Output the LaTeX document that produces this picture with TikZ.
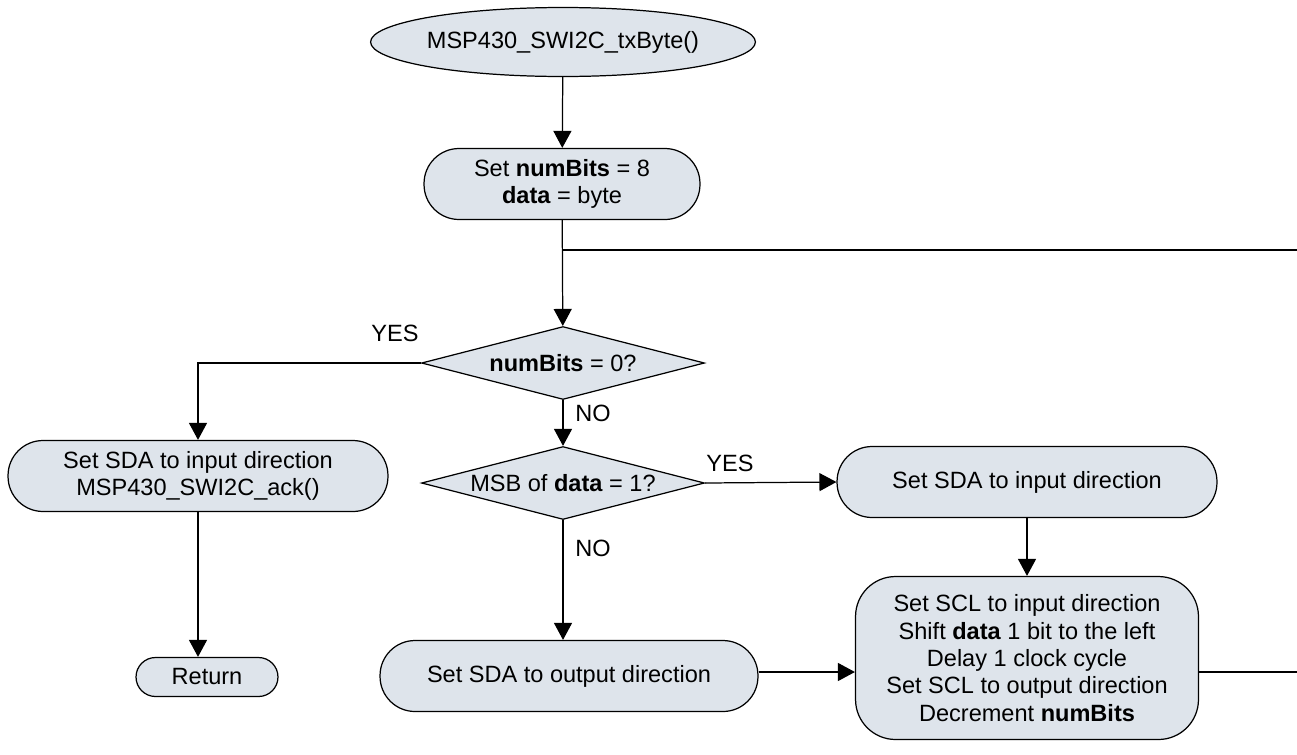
\documentclass[tikz,border=0pt]{standalone}
\usepackage{fontspec}
\setmainfont{Liberation Sans}
\usetikzlibrary{shapes.geometric,arrows.meta}
\definecolor{boxfill}{RGB}{222,228,235}
\tikzset{
  every node/.style={font=\fontsize{13.4}{15.6}\selectfont},
  term/.style={draw, fill=boxfill, ellipse, minimum width=7.6cm, minimum height=1.38cm, inner sep=0pt},
  proc/.style={draw, fill=boxfill, rounded corners=0.7cm, minimum height=1.42cm, align=center, inner sep=0pt},
  decision/.style={draw, fill=boxfill, diamond, aspect=3.9, minimum width=5.66cm, minimum height=1.46cm, inner sep=0pt}
}

\begin{document}
\begin{tikzpicture}[>={Triangle[length=0.34cm,width=0.36cm]}, x=0.02cm, y=-0.02cm, line width=0.7pt]
    \useasboundingbox (0,0) rectangle (1297,754);
    % shapes
    \node[term] (start) at (563,42) {MSP430\_SWI2C\_txByte()};
    \node[proc, minimum width=5.52cm] (init) at (562,184) {Set \textbf{numBits} = 8\\\textbf{data} = byte};
    \node[decision] (zero) at (563,363) {\textbf{numBits} = 0?};
    \node[decision] (msb) at (563,483) {MSB of \textbf{data} = 1?};
    \node[proc, minimum width=7.6cm] (ack) at (198,476) {Set SDA to input direction\\MSP430\_SWI2C\_ack()};
    \node[proc, minimum width=2.84cm, minimum height=0.78cm, rounded corners=0.39cm] (ret) at (207,677) {Return};
    \node[proc, minimum width=7.6cm] (sdain) at (1027,482) {Set SDA to input direction};
    \node[proc, minimum width=7.56cm] (sdaout) at (569,676) {Set SDA to output direction};
    \node[proc, minimum width=6.86cm, minimum height=3.26cm, rounded corners=0.8cm] (shift) at (1027,658)
        {Set SCL to input direction\\Shift \textbf{data} 1 bit to the left\\Delay 1 clock cycle\\Set SCL to output direction\\Decrement \textbf{numBits}};
    % labels
    \node (yes1) at (395,333) {YES};
    \node (no1) at (593,413) {NO};
    \node (yes2) at (730,463) {YES};
    \node (no2) at (593,548) {NO};
    % connectors
    \coordinate (loop) at (1297,250);
    \coordinate (exit) at (1297,672);
    \draw[->] (start) -- (init);
    \draw[->] (init) -- (zero);
    \draw (init.south |- loop) -- (loop);
    \draw[->] (zero.west) -| (ack.north);
    \draw[->] (zero) -- (msb);
    \draw[->] (msb.east) -- (sdain.west);
    \draw[->] (msb.south) -- (msb.south |- sdaout.north);
    \draw[->] (ack.south) -- (ack.south |- ret.north);
    \draw[->] (sdain) -- (shift);
    \draw[->] (exit -| sdaout.east) -- (exit -| shift.west);
    \draw (exit -| shift.east) -- (exit);
\end{tikzpicture}
\end{document}
